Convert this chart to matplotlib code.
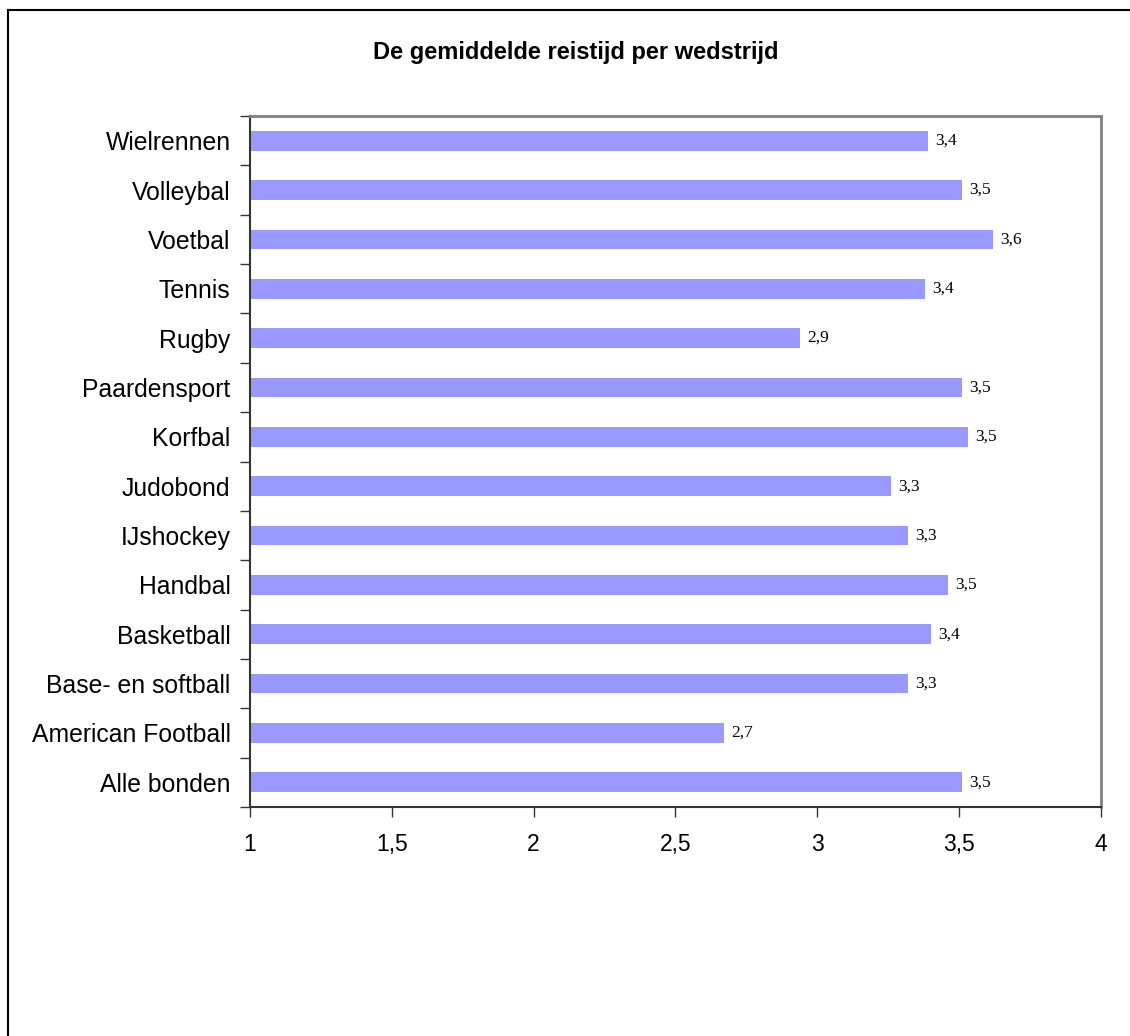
import numpy as np
import matplotlib.pyplot as plt
from matplotlib.lines import Line2D

# data, bottom to top as in the chart
sports = ['Alle bonden', 'American Football', 'Base- en softball', 'Basketball',
          'Handbal', 'IJshockey', 'Judobond', 'Korfbal', 'Paardensport',
          'Rugby', 'Tennis', 'Voetbal', 'Volleybal', 'Wielrennen']
reistijd = [3.51, 2.67, 3.32, 3.40, 3.46, 3.32, 3.26, 3.53, 3.51,
            2.94, 3.38, 3.62, 3.51, 3.39]
xticks = [1, 1.5, 2, 2.5, 3, 3.5, 4]
xlabels = ['1', '1,5', '2', '2,5', '3', '3,5', '4']

plt.rcParams['font.family'] = ['Liberation Sans', 'DejaVu Sans']

fig = plt.figure(figsize=(11.3, 10.36), dpi=100)
W, H = 1130, 1036
ax = fig.add_axes([250 / W, 1 - 807 / H, 851 / W, (807 - 116) / H])

y = np.arange(len(sports))
ax.barh(y, np.array(reistijd) - 1, left=1, height=0.4, color='#9999ff')

for yi, v in zip(y, reistijd):
    ax.text(v + 0.025, yi, ('%.1f' % v).replace('.', ','), va='center', ha='left',
            fontsize=12.5, family=['Liberation Serif', 'DejaVu Serif'])

ax.set_xlim(1, 4)
ax.set_ylim(-0.5, len(sports) - 0.5)
ax.set_xticks(xticks)
ax.set_xticklabels(xlabels, fontsize=16.5)
ax.set_yticks(y)
ax.set_yticklabels(sports, fontsize=17.8)
ax.tick_params(axis='y', length=0, pad=14)
ax.set_yticks(np.arange(len(sports) + 1) - 0.5, minor=True)
ax.tick_params(axis='y', which='minor', length=7, width=1, color='#333333')
ax.tick_params(axis='x', length=7, width=1, color='#333333', pad=12)

for s in ['top', 'right']:
    ax.spines[s].set_color('#808080')
    ax.spines[s].set_linewidth(2)
for s in ['left', 'bottom']:
    ax.spines[s].set_color('#333333')
    ax.spines[s].set_linewidth(1.5)

fig.text(576 / W, 1 - 52 / H, 'De gemiddelde reistijd per wedstrijd',
         ha='center', va='center', fontsize=17, fontweight='bold')

# chart area border (left and top visible)
fig.add_artist(Line2D([8 / W, 8 / W], [0, 1 - 10 / H], color='black', lw=1.5,
                      transform=fig.transFigure))
fig.add_artist(Line2D([8 / W, 1], [1 - 10 / H, 1 - 10 / H], color='black', lw=1.5,
                      transform=fig.transFigure))

fig.savefig('out.png', dpi=100, facecolor='white')
